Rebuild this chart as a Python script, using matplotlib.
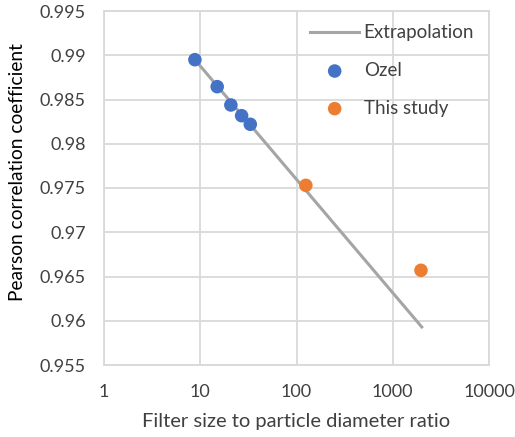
import matplotlib
matplotlib.use("Agg")
import matplotlib.pyplot as plt
from matplotlib.ticker import FixedLocator, NullLocator

plt.rcParams['font.family'] = ['Lato', 'DejaVu Sans']

# Extrapolation line endpoints (ratio, coefficient)
extrap_x = [8.8, 2000]
extrap_y = [0.9895, 0.9593]

# Ozel data
ozel_x = [8.8, 15.0, 20.8, 26.9, 33.1]
ozel_y = [0.9895, 0.98645, 0.98438, 0.98317, 0.9822]

# This study
study_x = [125, 1965]
study_y = [0.9753, 0.9657]

x_ticks = [1, 10, 100, 1000, 10000]
x_tick_labels = ["1", "10", "100", "1000", "10000"]
y_ticks = [0.955, 0.96, 0.965, 0.97, 0.975, 0.98, 0.985, 0.99, 0.995]
y_tick_labels = ["0.955", "0.96", "0.965", "0.97", "0.975", "0.98", "0.985", "0.99", "0.995"]

grid_col = "#D9D9D9"
text_col = "#404040"

fig = plt.figure(figsize=(5.15, 4.37), dpi=100)
ax = fig.add_axes([104/515, 1-365/437, (489-104)/515, (365-11)/437])

ax.plot(extrap_x, extrap_y, color="#A5A5A5", lw=2.2, label="Extrapolation", zorder=3)
ax.scatter(ozel_x, ozel_y, s=95, color="#4472C4", label="Ozel", zorder=4, edgecolors="none")
ax.scatter(study_x, study_y, s=95, color="#ED7D31", label="This study", zorder=4, edgecolors="none")

ax.set_xscale("log")
ax.set_xlim(1, 10000)
ax.set_ylim(0.955, 0.995)
ax.xaxis.set_major_locator(FixedLocator(x_ticks))
ax.xaxis.set_minor_locator(NullLocator())
ax.set_xticks(x_ticks, x_tick_labels)
ax.set_yticks(y_ticks, y_tick_labels)
ax.tick_params(axis="both", length=0, labelsize=13, labelcolor=text_col)
ax.tick_params(axis="y", pad=13)
ax.tick_params(axis="x", pad=14)

ax.grid(True, color=grid_col, lw=1.3)
ax.set_axisbelow(True)
for sp in ax.spines.values():
    sp.set_color(grid_col)
    sp.set_linewidth(1.3)

ax.set_xlabel("Filter size to particle diameter ratio", fontsize=14.5, color=text_col)
ax.set_ylabel("Pearson correlation coefficient", fontsize=13.8, color="black")
ax.xaxis.label.set_va("center")
ax.yaxis.label.set_va("center")
ax.xaxis.set_label_coords(0.5, -(422 - 365) / 354)
ax.yaxis.set_label_coords((17 - 104) / 385, (365 - 172) / 354)

leg = ax.legend(loc="upper left", bbox_to_anchor=((300 - 104) / 385, 1 - 3 / 354), frameon=False,
                fontsize=13.5, labelspacing=1.1, handlelength=2.6, handletextpad=0.25,
                borderaxespad=0.15)
for t in leg.get_texts():
    t.set_color(text_col)

fig.savefig("out.png", dpi=100)
